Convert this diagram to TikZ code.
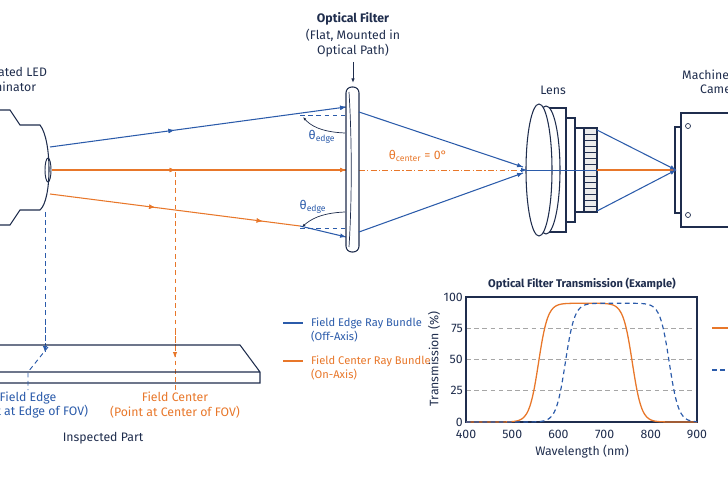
\documentclass[tikz,border=0pt]{standalone}
\usepackage{fontspec}
\setmainfont{Fira Sans}
\usetikzlibrary{arrows.meta,decorations.markings}
\definecolor{bl}{HTML}{2B5BAA}
\definecolor{og}{HTML}{E8772A}
\definecolor{nv}{HTML}{1F2D4D}
\begin{document}
\begin{tikzpicture}[x=0.03cm,y=-0.03cm,font=\fontsize{10.5}{12.5}\selectfont,
 ray/.style={line width=0.9pt},
 midarr/.style={postaction={decorate},decoration={markings,mark=at position #1 with {\arrow{Latex[length=5pt,width=4pt]}}}},
 dsh/.style={dash pattern=on 4pt off 3pt},
 lab/.style={align=center,text=nv,inner sep=0pt},
 body/.style={draw=nv,line width=0.9pt,fill=white}]
\useasboundingbox (0,0) rectangle (728,485);
% illuminator
\node[lab] (illt) at (5,79) {Collimated LED\\Illuminator};
\draw[body] (-5,110)--(10,110)--(20,125)--(40,125) .. controls (52,140) and (52,200) .. (40,210)--(20,210)--(10,225)--(-5,225);
\draw[nv,line width=0.8pt] (48,170) ellipse (3 and 12);
\coordinate (s1) at (50,147); \coordinate (s2) at (52,170); \coordinate (s3) at (50,194);
\coordinate (f1) at (346,107); \coordinate (f2) at (346,170); \coordinate (f3) at (346,237);
% rays
\draw[ray,bl,midarr=0.42,midarr=1] (s1)--(f1);
\draw[ray,og,midarr=0.42,midarr=1] (s2)--(f2);
\draw[ray,og,midarr=0.42,midarr=0.85] (s3)--(300,226);
\draw[ray,bl,midarr=1] (300,226)--(f3);
\draw[og,line width=0.8pt,dash pattern=on 5pt off 2pt on 1pt off 2pt] (359,170)--(520,170);
% angle marks
\draw[bl,dsh,line width=0.7pt] (300,115)--(345,115) (300,228)--(345,228);
\draw[nv,line width=0.6pt,-{Latex[length=3pt]}] (345,133) .. controls (320,132) and (310,125) .. (303,117);
\draw[nv,line width=0.6pt,-{Latex[length=3pt]}] (345,212) .. controls (320,213) and (310,220) .. (302,227);
\node[text=bl] (te1) at (322,137) {θ\textsubscript{edge}};
\node[text=bl] (te2) at (313,207) {θ\textsubscript{edge}};
\node[text=og] (tc) at (418,156) {θ\textsubscript{center} = 0°};
% filter
\draw[body,rounded corners=5pt] (346,87) rectangle (359,252);
\draw[nv,line width=0.6pt] (349,92)..controls (352,140) and (352,200)..(349,247);
\node[lab,font=\fontsize{10.5}{12.5}\selectfont\bfseries] (ft) at (353,19) {Optical Filter};
\node[lab] (fs) at (353,43) {(Flat, Mounted in\\Optical Path)};
\draw[nv,line width=0.8pt,-{Latex[length=4pt]}] (353,62)--(353,83);
% rays to lens
\draw[ray,bl,midarr=1] (359,112)--(523,167);
\draw[ray,bl,midarr=1] (359,232)--(523,173);
% lens
\node[lab] (lens) at (553,90) {Lens};
\draw[body] (546,108) rectangle (566,232);
\draw[body] (566,118) rectangle (575,222);
\draw[body] (575,128) rectangle (584,212);
\draw[body,fill=gray!15] (584,128) rectangle (597,212);
\foreach \yy in {134,140,...,208} \draw[nv,line width=0.4pt] (584,\yy)--(597,\yy);
\draw[body] (546,170) ellipse (14 and 64);
\draw[body] (539,170) ellipse (13 and 66);
\draw[bl,line width=0.6pt] (526,170)--(597,170);
\draw[bl,line width=0.8pt,-{Latex[length=5pt]}] (520,170)--(527,170);
% camera
\node[lab,anchor=west] (cam) at (682,75) {Machine Vision};
\node[lab,anchor=west] (cam2) at (700,89) {Camera};
\draw[body] (675,127) rectangle (681,213);
\draw[body] (681,113) rectangle (735,227);
\draw[nv,line width=0.6pt] (688,126) circle (2.5) (688,215) circle (2.5);
\coordinate (ci) at (676,170);
\draw[ray,og] (597,170)--(ci);
\draw[ray,bl,midarr=1] (597,130)--(ci);
\draw[ray,bl,midarr=1] (597,211)--(ci);
% drop lines
\draw[bl,dsh,line width=0.8pt] (45,212)--(45,352);
\draw[og,dsh,line width=0.8pt] (175,172)--(175,390);
% part
\draw[body,fill=none] (-5,345)--(240,345)--(260,372)--(260,383)--(-5,383) (-5,372)--(260,372);
\draw[bl,dsh,line width=0.8pt,-{Latex[length=5pt]}] (45,320)--(45,352);
\draw[bl,dsh,line width=0.8pt] (48,347)--(28,372)--(28,390);
\draw[og,dsh,line width=0.8pt,-{Latex[length=5pt]}] (175,330)--(175,358);
\node[text=bl,align=center] (fe) at (28,405) {Field Edge\\(Point at Edge of FOV)};
\node[text=og,align=center] (fc) at (175,405) {Field Center\\(Point at Center of FOV)};
\node[lab] (ip) at (103,438) {Inspected Part};
% legend
\draw[bl,line width=1pt] (283,323)--(303,323);
\node[text=bl,anchor=west,align=left,font=\fontsize{9.5}{12.5}\selectfont] (l1) at (307,330) {Field Edge Ray Bundle\\(Off-Axis)};
\draw[og,line width=1pt] (283,361)--(303,361);
\node[text=og,anchor=west,align=left,font=\fontsize{9.5}{12.5}\selectfont] (l2) at (307,368) {Field Center Ray Bundle\\(On-Axis)};
% chart
\node[lab,font=\fontsize{9.5}{11}\selectfont\bfseries] (ct) at (582,284) {Optical Filter Transmission (Example)};
\foreach \t in {25,50,75} \draw[gray!70,dsh,line width=0.5pt] (466,{422-1.25*\t})--(697,{422-1.25*\t});
\draw[nv,line width=0.9pt] (466,297) rectangle (697,422);
\foreach \t in {0,25,50,75,100} \node[lab,anchor=east] at (463,{422-1.25*\t}) {\t};
\foreach \l in {400,500,...,900} \node[lab] at ({466+(\l-400)*0.462},434) {\l};
\node[lab,rotate=90] (yl) at (434,359) {Transmission (\%)};
\node[lab] (xl) at (582,452) {Wavelength (nm)};
\draw[og,line width=1.1pt,domain=400:900,samples=120,smooth] plot ({466+(\x-400)*0.462},{422-1.25*95*(0.5+0.5*tanh(max(-6,min(6,(\x-557)/20))))*(0.5-0.5*tanh(max(-6,min(6,(\x-760)/20))))});
\draw[bl,dsh,line width=1pt,domain=400:900,samples=120,smooth] plot ({466+(\x-400)*0.462},{422-1.25*95*(0.5+0.5*tanh(max(-6,min(6,(\x-615)/20))))*(0.5-0.5*tanh(max(-6,min(6,(\x-840)/20))))});
\draw[og,line width=1pt] (712,328)--(730,328);
\draw[bl,dsh,line width=1pt] (712,370)--(730,370);
\end{tikzpicture}
\end{document}
